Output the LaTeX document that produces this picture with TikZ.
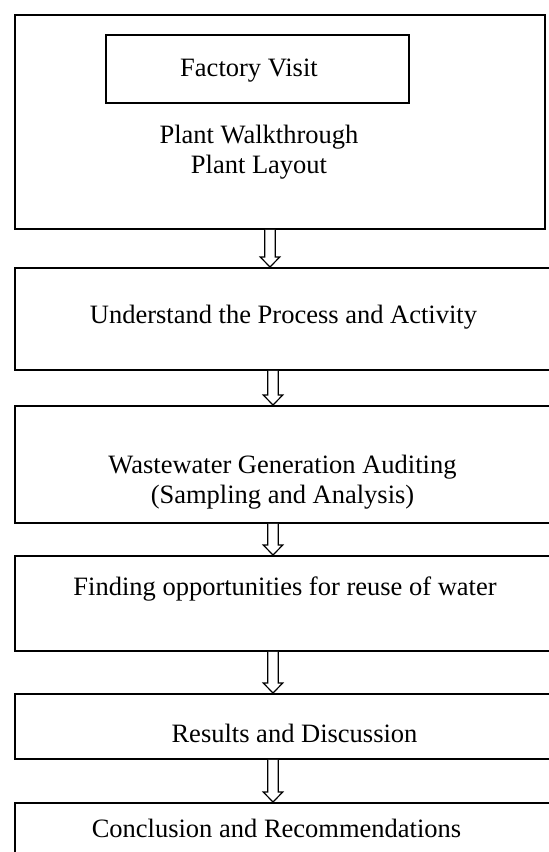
\documentclass[tikz,border=0pt]{standalone}
\usepackage{fontspec}
\setmainfont{Liberation Serif}
\usetikzlibrary{calc}

\tikzset{
  box/.style={draw, line width=0.9pt, rectangle, inner sep=0pt, anchor=north west},
  lbl/.style={font=\fontsize{13.25}{15}\selectfont, align=center, anchor=base, inner sep=0pt},
  hollow/.style={draw, line width=0.6pt, fill=white, line join=miter}
}

\begin{document}
\begin{tikzpicture}[x=0.5pt, y=-0.5pt]
\useasboundingbox (0,0) rectangle (549,852);
\clip (0,0) rectangle (549,852);

% Boxes
\node[box, minimum width=265pt, minimum height=107pt] (visit) at (14,14) {};
\node[box, minimum width=151.5pt, minimum height=34pt] (factory) at (105,34) {};
\node[box, minimum width=278pt, minimum height=51pt] (process) at (14,267) {};
\node[box, minimum width=278pt, minimum height=58.5pt] (audit) at (14,405) {};
\node[box, minimum width=278pt, minimum height=47.5pt] (reuse) at (14,555) {};
\node[box, minimum width=278pt, minimum height=32.5pt] (results) at (14,693) {};
\node[box, minimum width=278pt, minimum height=40pt] (concl) at (14,802) {};

% Texts (base = last line)
\node[lbl] (factorytxt) at (249,76) {Factory Visit};
\node[lbl] (walktxt) at (259,173) {Plant Walkthrough\\Plant Layout};
\node[lbl] (processtxt) at (283.5,323) {Understand the Process and Activity};
\node[lbl] (audittxt) at (282.5,503) {Wastewater Generation Auditing\\(Sampling and Analysis)};
\node[lbl] (reusetxt) at (285,595) {Finding opportunities for reuse of water};
\node[lbl] (resultstxt) at (294.5,742) {Results and Discussion};
\node[lbl] (concltxt) at (276.5,837) {Conclusion and Recommendations};

% Hollow arrows
\foreach \a/\b/\ax in {visit/process/270, process/audit/273, audit/reuse/273,
                       reuse/results/273, results/concl/273} {
    \coordinate (s) at (\ax,0 |- \a.south);
    \coordinate (t) at (\ax,0 |- \b.north);
    \draw[hollow] ($(s)+(-5.25,0)$) -- ($(t)+(-5.25,-10)$) -- ++(-4.5,0) -- (t)
        -- ($(t)+(9.75,-10)$) -- ++(-4.5,0) -- ($(s)+(5.25,0)$);
}
\end{tikzpicture}
\end{document}
